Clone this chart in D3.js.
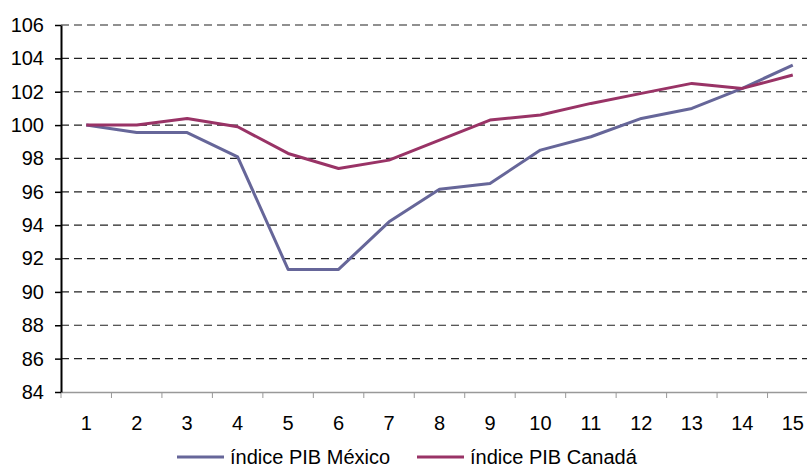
<!DOCTYPE html>
<html lang="es">
<head>
  <meta charset="UTF-8">
  <title>Índice PIB México vs Canadá</title>
  <script src="https://d3js.org/d3.v7.min.js"></script>
  <style>
    body { margin: 0; background: #fff; }
    svg text { font-family: "Liberation Sans", Arial, sans-serif; fill: #000; }
  </style>
</head>
<body>
  <div id="chart"></div>
  <script>
    // data
    const periods = [1, 2, 3, 4, 5, 6, 7, 8, 9, 10, 11, 12, 13, 14, 15];
    const mexico = [100, 99.55, 99.55, 98.1, 91.35, 91.35, 94.2, 96.15, 96.5, 98.5, 99.3, 100.4, 101.0, 102.2, 103.6];
    const canada = [100, 100, 100.4, 99.9, 98.3, 97.4, 97.9, 99.1, 100.3, 100.6, 101.3, 101.9, 102.5, 102.2, 103.0];
    const yTicks = [84, 86, 88, 90, 92, 94, 96, 98, 100, 102, 104, 106];
    const seriesNames = ["índice PIB México", "índice PIB Canadá"];
    const seriesColors = ["#666699", "#993366"];

    const width = 807, height = 468;
    const margin = { top: 25, left: 61, bottom: 76 };
    const plotW = 757, plotH = height - margin.top - margin.bottom;

    const svg = d3.select("#chart").append("svg")
      .attr("width", width)
      .attr("height", height);

    const g = svg.append("g")
      .attr("transform", `translate(${margin.left},${margin.top})`);

    const x = d3.scaleBand().domain(periods).range([0, plotW]);
    const y = d3.scaleLinear().domain([84, 106]).range([plotH, 0]);

    // dashed gridlines
    g.selectAll(".grid")
      .data(yTicks.filter(d => d !== 84))
      .enter().append("line")
      .attr("x1", 0).attr("x2", plotW)
      .attr("y1", d => y(d)).attr("y2", d => y(d))
      .attr("stroke", "#222")
      .attr("stroke-width", 1.2)
      .attr("stroke-dasharray", "8,5");

    // x axis
    const xAxis = g.append("g")
      .attr("transform", `translate(0,${plotH})`)
      .call(d3.axisBottom(x).tickSize(0).tickPadding(24));
    xAxis.select(".domain").attr("stroke", "#999").attr("stroke-width", 1.5);
    xAxis.selectAll("text").style("font-size", "20px");
    // tick marks on band boundaries
    g.selectAll(".xtick")
      .data(d3.range(periods.length + 1))
      .enter().append("line")
      .attr("x1", i => i * x.step()).attr("x2", i => i * x.step())
      .attr("y1", plotH).attr("y2", plotH + 6)
      .attr("stroke", "#999").attr("stroke-width", 1);

    // y axis
    const yAxis = g.append("g")
      .call(d3.axisLeft(y).tickValues(yTicks).tickSize(6).tickSizeOuter(0).tickPadding(11));
    yAxis.select(".domain").attr("stroke", "#000").attr("stroke-width", 2);
    yAxis.selectAll(".tick line").attr("stroke", "#000").attr("stroke-width", 1.5);
    yAxis.selectAll("text").style("font-size", "20px");

    // lines
    const line = d3.line()
      .x((d, i) => x(periods[i]) + x.bandwidth() / 2)
      .y(d => y(d));

    [mexico, canada].forEach((vals, i) => {
      g.append("path")
        .datum(vals)
        .attr("fill", "none")
        .attr("stroke", seriesColors[i])
        .attr("stroke-width", 3)
        .attr("stroke-linejoin", "round")
        .attr("d", line);
    });

    // legend
    const legendX = [177, 417];
    const legend = svg.selectAll(".legend")
      .data(seriesNames)
      .enter().append("g")
      .attr("transform", (d, i) => `translate(${legendX[i]},457)`);
    legend.append("line")
      .attr("x1", 0).attr("x2", 47)
      .attr("stroke", (d, i) => seriesColors[i])
      .attr("stroke-width", 3);
    legend.append("text")
      .attr("x", 53).attr("y", 7)
      .style("font-size", "20px")
      .text(d => d);
  </script>
</body>
</html>
